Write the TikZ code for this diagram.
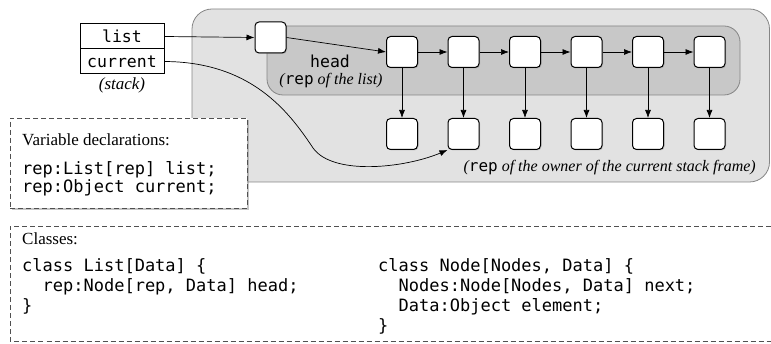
\documentclass[tikz,border=0pt]{standalone}
\usepackage{fontspec}
\setmainfont{Liberation Serif}
\setmonofont{DejaVu Sans Mono}
\usetikzlibrary{arrows.meta,shadows}
\definecolor{biggray}{HTML}{E2E2E2}
\definecolor{innergray}{HTML}{C8C8C8}
\definecolor{edgegray}{HTML}{858585}
\definecolor{dashgray}{HTML}{505050}
\newcommand{\upmono}[1]{{\upshape\ttfamily #1}}
\begin{document}
\begin{tikzpicture}[x=1pt,y=-1pt,
  objbox/.style={draw=black, line width=1pt, fill=white, rounded corners=4pt,
    minimum width=31pt, minimum height=31pt, inner sep=0pt,
    drop shadow={opacity=0.35, shadow xshift=1pt, shadow yshift=-1pt}},
  arr/.style={-{Latex[length=8pt,width=6pt]}, line width=0.7pt},
  cell/.style={draw=black, line width=1pt, fill=white, minimum width=84pt,
    minimum height=25pt, inner sep=0pt, font=\fontsize{16.5}{20}\ttfamily},
  code/.style={font=\fontsize{17}{20}\ttfamily, anchor=base west, inner sep=0pt},
  serif/.style={font=\fontsize{17}{20}\selectfont, inner sep=0pt},
  itlab/.style={font=\fontsize{16}{19}\itshape, inner sep=0pt},
  dbox/.style={draw=dashgray, line width=0.9pt, dash pattern=on 5pt off 3pt, inner sep=0pt}
]
\useasboundingbox (0,0) rectangle (771,344);

% regions
\draw[edgegray, fill=biggray, line width=0.8pt, rounded corners=20pt] (192,9) rectangle (769.5,182);
\draw[edgegray, fill=innergray, line width=0.8pt, rounded corners=16pt] (267,26) rectangle (740,95);

% stack
\node[cell] (list) at (122,36.5) {list};
\node[cell] (current) at (122,61.5) {current};
\node[itlab, font=\fontsize{17}{20}\itshape] (stacklbl) at (122,85) {(stack)};

% head object
\node[objbox] (head) at (270.5,37.5) {};

% list nodes
\foreach \i/\x in {1/402,2/463.5,3/525,4/586.5,5/648,6/709.5}{
  \node[objbox] (n\i) at (\x,52) {};
  \node[objbox] (b\i) at (\x,134) {};
  \draw[arr] (n\i.south) -- (b\i.north);
}
\foreach \i/\j in {1/2,2/3,3/4,4/5,5/6}{
  \draw[arr] (n\i.east) -- (n\j.west);
}

\draw[arr] (list.east) -- (head.west);
\draw[arr] (head.east) -- (n1.west);

% labels
\node[inner sep=0pt, font=\fontsize{16.5}{20}\ttfamily] (headlbl) at (330,61) {head};
\node[itlab] (replist) at (331,81) {(\upmono{rep} of the list)};
\node[itlab, anchor=base east] (repowner) at (756,172)
  {(\upmono{rep} of the owner of the current stack frame)};

% current curve
\draw[arr] (current.east) .. controls (250,62) and (288,110) .. (313,148)
   .. controls (333,176) and (405,168) .. (b2.south west);

% variable declarations box
\node[dbox, fill=white, minimum width=237pt, minimum height=90pt,
  drop shadow={opacity=0.45, shadow xshift=2pt, shadow yshift=-2pt}] (vbox) at (128.5,163) {};
\node[serif, anchor=base west] (vtitle) at (22,146) {Variable declarations:};
\node[code] (v1) at (22,175) {rep:List[rep] list;};
\node[code] (v2) at (22,192.5) {rep:Object current;};

% classes box
\draw[dashgray, line width=0.9pt, dash pattern=on 5pt off 3pt] (770.5,226) -- (10,226) -- (10,341) -- (770.5,341);
\node[serif, anchor=base west] (ctitle) at (22,245) {Classes:};
\node[code] (c1) at (22,272) {class List[Data] \{};
\node[code] (c2) at (22,292) {\phantom{xx}rep:Node[rep, Data] head;};
\node[code] (c3) at (22,312) {\}};
\node[code] (d1) at (378,272) {class Node[Nodes, Data] \{};
\node[code] (d2) at (378,292) {\phantom{xx}Nodes:Node[Nodes, Data] next;};
\node[code] (d3) at (378,312) {\phantom{xx}Data:Object element;};
\node[code] (d4) at (378,332) {\}};
\end{tikzpicture}
\end{document}
